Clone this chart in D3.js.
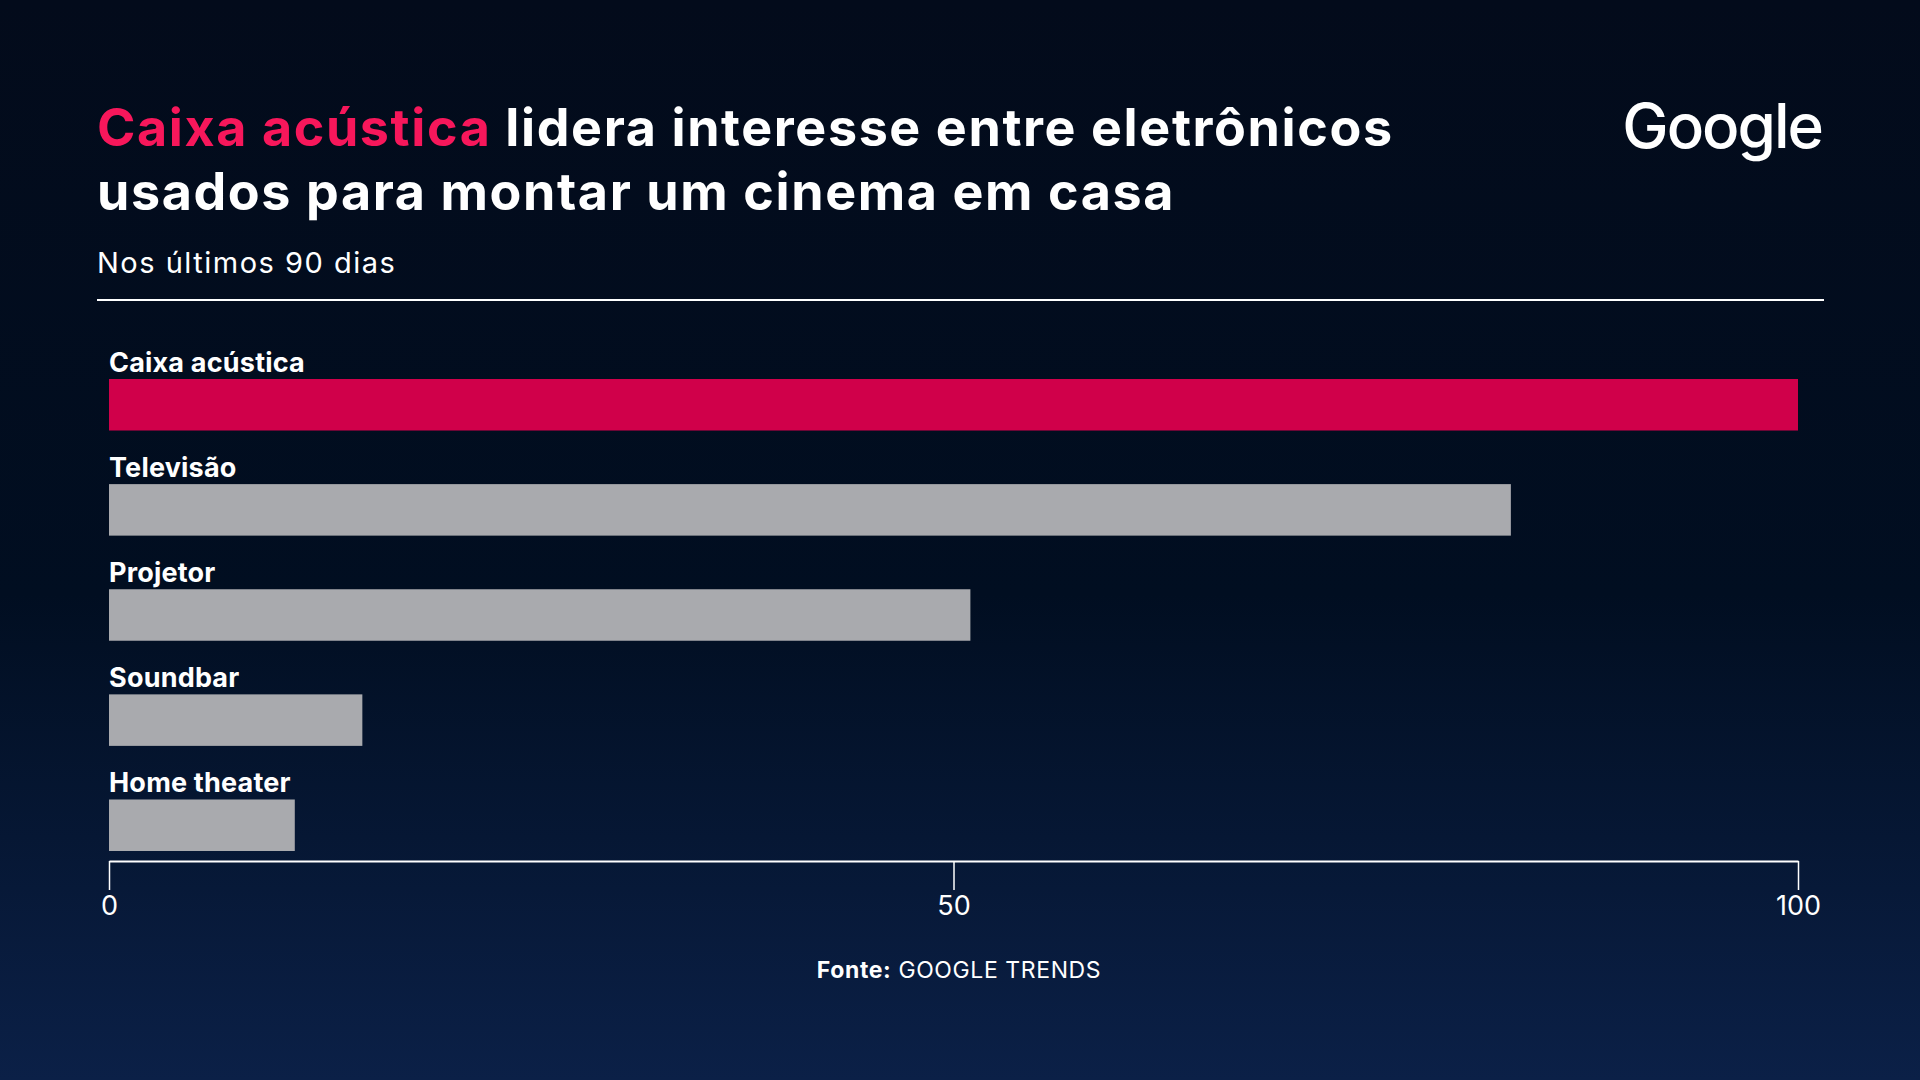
<!DOCTYPE html>
<html>
<head>
<meta charset="utf-8">
<script src="https://cdn.jsdelivr.net/npm/d3@7"></script>
<style>
  html, body { margin: 0; padding: 0; background: #020b1b; }
  svg text { font-family: Inter, "Open Sans", sans-serif; fill: #fff; }
</style>
</head>
<body>
<div id="chart"></div>
<script>
var svgWidth = 1920;
var svgHeight = 1080;

// data
var categories = ["Caixa acústica", "Televisão", "Projetor", "Soundbar", "Home theater"];
var values = [100, 83, 51, 15, 11];
var tickValues = [0, 50, 100];

var barColors = ["#d0004a", "#a9aaae", "#a9aaae", "#a9aaae", "#a9aaae"];

var svg = d3.select("#chart")
  .append("svg")
  .attr("width", svgWidth)
  .attr("height", svgHeight);

// background gradient
var defs = svg.append("defs");
var grad = defs.append("linearGradient")
  .attr("id", "bg")
  .attr("x1", 0).attr("y1", 0).attr("x2", 0).attr("y2", 1);
grad.append("stop").attr("offset", "0%").attr("stop-color", "#030b1b");
grad.append("stop").attr("offset", "55%").attr("stop-color", "#010e21");
grad.append("stop").attr("offset", "100%").attr("stop-color", "#0b2047");

svg.append("rect")
  .attr("width", svgWidth)
  .attr("height", svgHeight)
  .attr("fill", "url(#bg)");

// title
var title = svg.append("text")
  .attr("x", 97)
  .attr("y", 146)
  .style("font-size", "52px")
  .style("font-weight", 700)
  .style("letter-spacing", "1.6px");
title.append("tspan").style("fill", "#f7175b").text("Caixa acústica");
title.append("tspan").text(" lidera interesse entre eletrônicos");

svg.append("text")
  .attr("x", 97)
  .attr("y", 210)
  .style("font-size", "52px")
  .style("font-weight", 700)
  .style("letter-spacing", "1.6px")
  .text("usados para montar um cinema em casa");

svg.append("text")
  .attr("x", 97)
  .attr("y", 273)
  .style("font-size", "29px")
  .style("font-weight", 400)
  .style("letter-spacing", "1.5px")
  .text("Nos últimos 90 dias");

// google wordmark
svg.append("text")
  .attr("x", 1822)
  .attr("y", 148)
  .attr("text-anchor", "end")
  .style("font-size", "62px")
  .style("font-weight", 500)
  .style("letter-spacing", "-2px")
  .text("Google");

// divider
svg.append("line")
  .attr("x1", 97).attr("x2", 1824)
  .attr("y1", 300).attr("y2", 300)
  .attr("stroke", "#fff")
  .attr("stroke-width", 2);

///////////////////////////////////////////////////////////////////////

var xScale = d3.scaleLinear()
  .domain([0, 100])
  .range([109, 1798]);

var yScale = d3.scaleBand()
  .domain(categories)
  .range([379, 851])
  .paddingInner(0.51)
  .paddingOuter(0);

var bars = svg.selectAll(".bar")
  .data(categories)
  .enter()
  .append("rect")
  .classed("bar", true)
  .attr("x", xScale(0))
  .attr("y", d => yScale(d))
  .attr("width", (d, i) => xScale(values[i]) - xScale(0))
  .attr("height", yScale.bandwidth())
  .attr("fill", (d, i) => barColors[i]);

svg.selectAll(".barLabel")
  .data(categories)
  .enter()
  .append("text")
  .classed("barLabel", true)
  .attr("x", xScale(0))
  .attr("y", d => yScale(d) - 7)
  .style("font-size", "27px")
  .style("font-weight", 700)
  .style("letter-spacing", "0.2px")
  .text(d => d);

// x axis
var xAxis = d3.axisBottom(xScale)
  .tickValues(tickValues)
  .tickSize(29)
  .tickPadding(6)
  .tickSizeOuter(0);

var axisG = svg.append("g")
  .attr("class", "axis")
  .attr("transform", "translate(0, 861)")
  .call(xAxis);

axisG.select(".domain").attr("stroke", "#fff").attr("stroke-width", 2);
axisG.selectAll(".tick line").attr("stroke", "#fff").attr("stroke-width", 1.5);
axisG.selectAll(".tick text")
  .attr("fill", "#fff")
  .style("font-family", "Inter, sans-serif")
  .style("font-size", "27px");

// source
var src = svg.append("text")
  .attr("x", 959)
  .attr("y", 978)
  .attr("text-anchor", "middle")
  .style("font-size", "23px")
  .style("letter-spacing", "0.6px");
src.append("tspan").style("font-weight", 700).text("Fonte:");
src.append("tspan").style("font-weight", 400).text(" GOOGLE TRENDS");
</script>
</body>
</html>
